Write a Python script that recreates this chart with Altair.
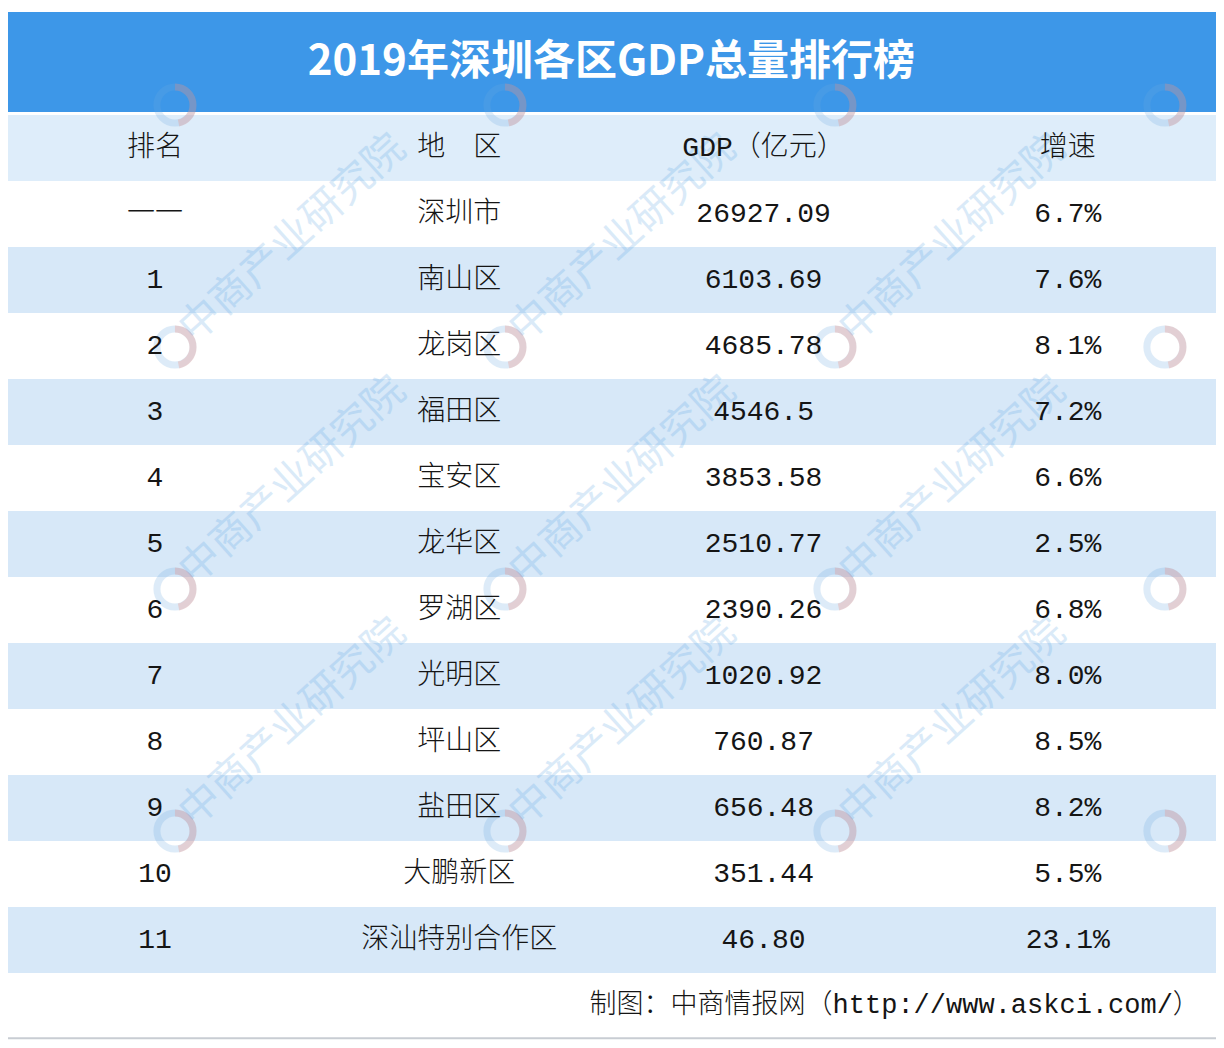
import altair as alt
import pandas as pd

# ---- data ----
title_text = "2019年深圳各区GDP总量排行榜"
header = ["排名", "地　区", "GDP（亿元）", "增速"]
ranks = ["一一", "1", "2", "3", "4", "5", "6", "7", "8", "9", "10", "11"]
districts = ["深圳市", "南山区", "龙岗区", "福田区", "宝安区", "龙华区", "罗湖区",
             "光明区", "坪山区", "盐田区", "大鹏新区", "深汕特别合作区"]
gdp = ["26927.09", "6103.69", "4685.78", "4546.5", "3853.58", "2510.77", "2390.26",
       "1020.92", "760.87", "656.48", "351.44", "46.80"]
growth = ["6.7%", "7.6%", "8.1%", "7.2%", "6.6%", "2.5%", "6.8%",
          "8.0%", "8.5%", "8.2%", "5.5%", "23.1%"]
source_text = "制图：中商情报网（http://www.askci.com/）"
watermark_text = "中商产业研究院"

# ---- tables ----
rows = [header] + [list(r) for r in zip(ranks, districts, gdp, growth)]
cells = pd.DataFrame([
    {"row": i + 0.5, "col": c, "text": t}
    for i, r in enumerate(rows) for c, t in enumerate(r)
])

def row_fill(i):
    if i == 0:
        return "head"
    return "white" if i % 2 == 1 else "band"

bg = pd.DataFrame([{"y": i, "y2": i + 1, "kind": row_fill(i)} for i in range(len(rows))])

W, H = 1208, 1032
xs = alt.Scale(domain=[-0.483, 3.487], nice=False, zero=False)
ys = alt.Scale(domain=[-1.621, 14.015], nice=False, zero=False, reverse=True)

FONT = "Liberation Mono, Noto Sans CJK SC"

bg_layer = alt.Chart(bg).mark_rect().encode(
    x=alt.value(0), x2=alt.value(W),
    y=alt.Y("y:Q", scale=ys, axis=None), y2="y2:Q",
    color=alt.Color("kind:N", legend=None,
                    scale=alt.Scale(domain=["head", "white", "band"],
                                    range=["#deedfa", "#ffffff", "#d7e8f8"])),
)

band = alt.Chart(pd.DataFrame({"y": [-1.56], "y2": [-0.045]})).mark_rect(color="#3d97e8").encode(
    x=alt.value(0), x2=alt.value(W),
    y=alt.Y("y:Q", scale=ys, axis=None), y2="y2:Q",
)

# watermark grid (decorative)
wm = pd.DataFrame([
    {"k": k, "j": j, "lx": (175 + 330 * k - 155) / 304.3, "ly": (105 + 242 * j - 115) / 66.0}
    for k in range(-1, 4) for j in range(0, 5)
])
wm["tx"] = wm["lx"] + 118 / 304.3
wm["ty"] = wm["ly"] - 108 / 66.0
wm["t"] = watermark_text
wm_full = wm[(wm.k >= 0) & (wm.k <= 2) & (wm.j >= 1) & (wm.j <= 3)]

wm_text = alt.Chart(wm_full).mark_text(
    angle=318, font="Noto Sans CJK SC", fontSize=41, color="#4a9be0", opacity=0.2,
    align="center", baseline="middle", clip=True,
).encode(
    x=alt.X("tx:Q", scale=xs, axis=None), y=alt.Y("ty:Q", scale=ys, axis=None), text="t:N"
)
wm_ring = alt.Chart(wm).mark_point(
    shape="circle", filled=False, size=1300, strokeWidth=7, color="#6aa9e0", opacity=0.22,
    clip=True,
).encode(x=alt.X("lx:Q", scale=xs, axis=None), y=alt.Y("ly:Q", scale=ys, axis=None))
wm_arc = alt.Chart(wm).mark_point(
    shape="M 0 -1 A 1 1 0 0 1 1 0 A 1 1 0 0 1 0.2 1", filled=False, size=1300,
    strokeWidth=7, color="#f08a7a", opacity=0.28, clip=True,
).encode(x=alt.X("lx:Q", scale=xs, axis=None), y=alt.Y("ly:Q", scale=ys, axis=None))

cell_layer = alt.Chart(cells).mark_text(
    font=FONT, fontSize=28, fontWeight=300, color="#151515", align="center", baseline="middle"
).encode(
    x=alt.X("col:Q", scale=xs, axis=None),
    y=alt.Y("row:Q", scale=ys, axis=None),
    text="text:N",
)

title_layer = alt.Chart(pd.DataFrame({"x": [1.5], "y": [-0.8], "t": [title_text]})).mark_text(
    font="Noto Sans CJK SC", fontSize=42, fontWeight="bold", color="#ffffff",
    align="center", baseline="middle",
).encode(x=alt.X("x:Q", scale=xs, axis=None), y=alt.Y("y:Q", scale=ys, axis=None), text="t:N")

footer = alt.Chart(pd.DataFrame({"x": [3.434], "y": [13.48], "t": [source_text]})).mark_text(
    font=FONT, fontSize=27, fontWeight=300, color="#151515", align="right", baseline="middle",
).encode(x=alt.X("x:Q", scale=xs, axis=None), y=alt.Y("y:Q", scale=ys, axis=None), text="t:N")

bottom = alt.Chart(pd.DataFrame({"y": [13.99]})).mark_rule(color="#c8cdd3", strokeWidth=2).encode(
    x=alt.value(0), x2=alt.value(W), y=alt.Y("y:Q", scale=ys, axis=None)
)

chart = alt.layer(
    bg_layer, band, wm_ring, wm_arc, wm_text, cell_layer, title_layer, footer, bottom
).properties(
    width=W, height=H, padding=0, background="#ffffff",
    autosize=alt.AutoSizeParams(type="none"),
).configure_view(stroke=None)

chart.save("out.html", embed_options={"renderer": "svg", "actions": False})
